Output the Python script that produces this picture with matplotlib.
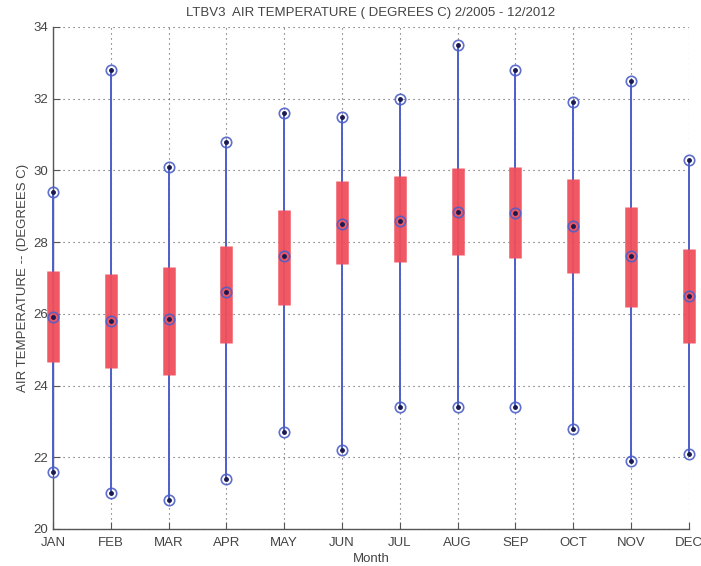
import matplotlib
matplotlib.use("Agg")
import matplotlib.pyplot as plt
import numpy as np

plt.rcParams['font.family'] = ['Liberation Sans', 'DejaVu Sans']

months = ['JAN', 'FEB', 'MAR', 'APR', 'MAY', 'JUN', 'JUL', 'AUG', 'SEP', 'OCT', 'NOV', 'DEC']
t_max = [29.4, 32.8, 30.1, 30.8, 31.6, 31.5, 32.0, 33.5, 32.8, 31.9, 32.5, 30.3]
t_min = [21.6, 21.0, 20.8, 21.4, 22.7, 22.2, 23.4, 23.4, 23.4, 22.8, 21.9, 22.1]
t_mean = [25.9, 25.8, 25.85, 26.6, 27.6, 28.5, 28.6, 28.85, 28.8, 28.45, 27.6, 26.5]
t_lo = [24.65, 24.5, 24.3, 25.2, 26.25, 27.4, 27.45, 27.65, 27.55, 27.15, 26.2, 25.2]
t_hi = [27.2, 27.1, 27.3, 27.9, 28.9, 29.7, 29.83, 30.07, 30.1, 29.75, 28.97, 27.82]

blue = '#4d5fc8'
red = '#f04f5c'
dot = '#1a1a50'
txt = '#444444'

fig = plt.figure(figsize=(7.01, 5.66), dpi=100)
ax = fig.add_axes([0.0756, 0.0654, 0.907, 0.887])

x = np.arange(1, len(months) + 1)

ax.vlines(x, t_min, t_max, color=blue, lw=1.4, zorder=3, clip_on=False)
ax.vlines(x, t_lo, t_hi, color=red, lw=9, alpha=0.95, zorder=4, clip_on=False)
for vals in (t_max, t_min, t_mean):
    ax.plot(x, vals, 'o', ms=7.5, mfc='none', mec=blue, mew=1.2, zorder=5,
            alpha=0.9, clip_on=False)
    ax.plot(x, vals, 'o', ms=2.5, color=dot, zorder=6, clip_on=False)

ax.set_xlim(1, 12)
ax.set_ylim(20, 34)
ax.set_xticks(x)
ax.set_xticklabels(months)
ax.set_yticks(np.arange(20, 35, 2))
ax.grid(True, linestyle=(0, (1, 3.5)), color='#555555', lw=0.8)
ax.set_axisbelow(True)

for s in ('top', 'right'):
    ax.spines[s].set_visible(False)
for s in ('left', 'bottom'):
    ax.spines[s].set_color('#555555')
    ax.spines[s].set_linewidth(1.0)

ax.tick_params(direction='in', length=5, colors='#555555', labelcolor=txt, labelsize=9.5)
ax.tick_params(axis='x', pad=6)

ax.set_title('LTBV3  AIR TEMPERATURE ( DEGREES C) 2/2005 - 12/2012', fontsize=9.5, color=txt, pad=8)
ax.set_xlabel('Month', fontsize=9.5, color=txt, labelpad=3)
ax.set_ylabel('AIR TEMPERATURE -- (DEGREES C)', fontsize=9.5, color=txt, labelpad=3)

fig.savefig('out.png', dpi=100)
